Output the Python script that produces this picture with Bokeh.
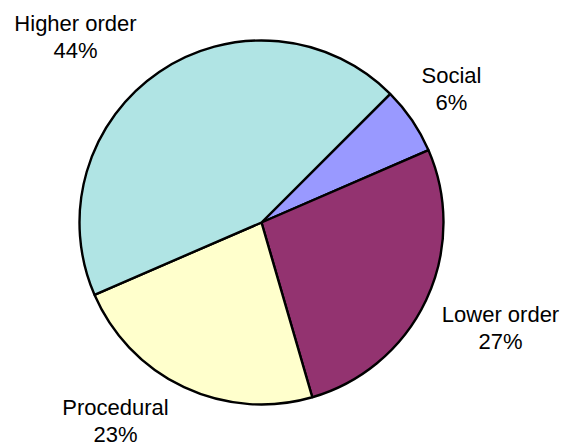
import numpy as np
from bokeh.plotting import figure
from bokeh.models import Range1d, ColumnDataSource
from bokeh.core.properties import value
from bokeh.embed import file_html
from bokeh.resources import INLINE

# Data (clockwise order starting at 45 degrees)
categories = ["Social", "Lower order", "Procedural", "Higher order"]
percents = [6, 27, 23, 44]
colors = ["#9999FF", "#933370", "#FFFFCC", "#B0E4E4"]

W, H = 561, 447
p = figure(width=W, height=H, output_backend="svg", toolbar_location=None,
           x_range=Range1d(0, W), y_range=Range1d(0, H),
           min_border=0, outline_line_color=None)
p.axis.visible = False
p.grid.visible = False
p.background_fill_color = "white"

cx, cy, r = 261, H - 222, 182
start0 = np.pi / 4
frac = np.array(percents) / sum(percents)
cum = np.concatenate([[0], np.cumsum(frac)])
starts = start0 - cum[:-1] * 2 * np.pi
ends = start0 - cum[1:] * 2 * np.pi

src = ColumnDataSource(dict(start=ends, end=starts, color=colors, cat=categories))
p.wedge(x=cx, y=cy, radius=r, start_angle="start", end_angle="end",
        direction="anticlock", fill_color="color", line_color="black",
        line_width=2.4, source=src)

# labels
label_x = [451, 500, 115, 75]
label_y = [H - 88, H - 327, H - 420, H - 36.5]
texts = [f"{c}\n{v}%" for c, v in zip(categories, percents)]
p.text(x=label_x, y=label_y, text=texts, text_align="center",
       text_baseline="middle", text_font=value("Liberation Sans"),
       text_font_size="22px", text_color="black", text_line_height=1.08)

open("out.html", "w").write(file_html(p, INLINE))
